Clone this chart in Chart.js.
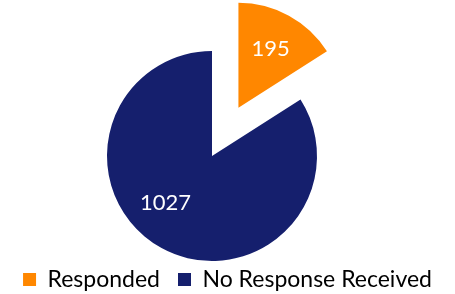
<!DOCTYPE html>
<html>
<head>
<meta charset="utf-8">
<script src="https://cdn.jsdelivr.net/npm/chart.js@4/dist/chart.umd.min.js"></script>
<style>
  html, body { margin: 0; padding: 0; background: #fff; }
</style>
</head>
<body>
<canvas id="responseChart" width="455" height="294"></canvas>
<script>
// data
const labels = ['Responded', 'No Response Received'];
const counts = [195, 1027];
const colours = ['#FF8700', '#151F6D'];

// styling: how far each slice is pulled out, label distance and angle nudge
const explode = [55, 0];
const labelDist = [0.64, 0.63];
const labelTurn = [0, 0.28];
const FONT = 'Lato';

// pull slices out without growing them (chart.js offset also enlarges the arc)
const explodeSlices = {
  id: 'explodeSlices',
  afterUpdate(chart) {
    chart.getDatasetMeta(0).data.forEach((arc, i) => {
      const d = explode[i];
      if (!d) return;
      arc.draw = function (ctx) {
        const mid = (this.startAngle + this.endAngle) / 2;
        ctx.save();
        ctx.translate(Math.cos(mid) * d, Math.sin(mid) * d);
        Chart.ArcElement.prototype.draw.call(this, ctx);
        ctx.restore();
      };
    });
  }
};

// move the pie and legend to where the original has them
const placeBoxes = {
  id: 'placeBoxes',
  afterLayout(chart) {
    const a = chart.chartArea;
    a.top += 69;
    a.right -= 31;
    a.width = a.right - a.left;
    a.height = a.bottom - a.top;
    chart.legend.top += 7;
    chart.legend.bottom += 7;
  }
};

// value labels inside slices
const sliceLabels = {
  id: 'sliceLabels',
  afterDatasetsDraw(chart) {
    const ctx = chart.ctx;
    ctx.save();
    ctx.fillStyle = '#fff';
    ctx.font = '22px ' + FONT;
    ctx.textAlign = 'center';
    ctx.textBaseline = 'middle';
    chart.getDatasetMeta(0).data.forEach((arc, i) => {
      const mid = (arc.startAngle + arc.endAngle) / 2;
      const cx = arc.x + Math.cos(mid) * explode[i];
      const cy = arc.y + Math.sin(mid) * explode[i];
      const a = mid + labelTurn[i];
      const r = arc.outerRadius * labelDist[i];
      ctx.fillText(String(counts[i]), cx + Math.cos(a) * r, cy + Math.sin(a) * r);
    });
    ctx.restore();
  }
};

new Chart(document.getElementById('responseChart'), {
  type: 'pie',
  data: {
    labels: labels,
    datasets: [{
      data: counts,
      backgroundColor: colours,
      borderWidth: 0,
      hoverOffset: 0,
      clip: false
    }]
  },
  options: {
    responsive: false,
    animation: false,
    radius: 105,
    plugins: {
      legend: {
        position: 'bottom',
        labels: {
          boxWidth: 13,
          boxHeight: 13,
          padding: 18,
          color: '#000',
          font: { family: FONT, size: 23 }
        }
      },
      tooltip: { enabled: false }
    }
  },
  plugins: [explodeSlices, placeBoxes, sliceLabels]
});
</script>
</body>
</html>
